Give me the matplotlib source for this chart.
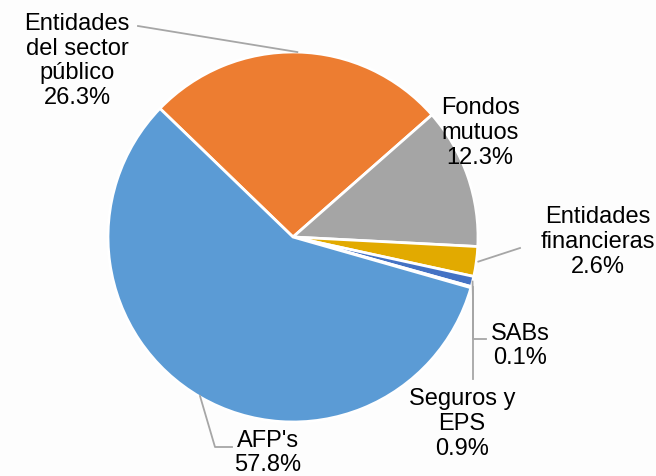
import numpy as np
import matplotlib.pyplot as plt

plt.rcParams['font.family'] = ['Liberation Sans', 'DejaVu Sans']

labels = ["Entidades\ndel sector\npúblico", "Fondos\nmutuos", "Entidades\nfinancieras",
          "Seguros y\nEPS", "SABs", "AFP's"]
shares = [26.3, 12.3, 2.6, 0.9, 0.1, 57.8]
colors = ["#ED7D31", "#A5A5A5", "#E2AA00", "#4472C4", "#70AD47", "#5B9BD5"]

W, H = 656, 477
fig = plt.figure(figsize=(W / 100, H / 100), dpi=100)
fig.patch.set_facecolor("#fdfdfd")
ax = fig.add_axes([0, 0, 1, 1])

cx, cy, r = 293, H - 238, 185
wedges, _ = ax.pie(shares, colors=colors, startangle=136, counterclock=False,
                   center=(cx, cy), radius=r, frame=True,
                   wedgeprops=dict(edgecolor="white", linewidth=2))
ax.set_xlim(0, W)
ax.set_ylim(0, H)
ax.axis("off")

# label text positions (pixel coords from top)
text_pos = [(77, 61), (480, 133), (598, 242), (462, 424), (520, 346), (268, 453)]
lc = "#A6A6A6"

def edge_pt(w, frac=0.5):
    a = np.deg2rad(w.theta1 + (w.theta2 - w.theta1) * frac)
    return cx + r * np.cos(a), cy + r * np.sin(a)

for lab, val, (tx, ty) in zip(labels, shares, text_pos):
    ax.text(tx, H - ty, f"{lab}\n{val:.1f}%", ha="center", va="center",
            fontsize=17, linespacing=1.16, color="black")

# leader lines
x0, y0 = edge_pt(wedges[0], 0.5)
ax.plot([138, x0], [H - 27, y0], color=lc, lw=1.3)
x0, y0 = edge_pt(wedges[2])
ax.plot([520, x0 + 2], [H - 249, y0], color=lc, lw=1.3)
x0, y0 = edge_pt(wedges[3])
ax.plot([x0, 473, 473], [y0, H - 300, H - 380], color=lc, lw=1.3)
x0, y0 = edge_pt(wedges[4])
ax.plot([486, 473, 473], [H - 340, H - 340, y0], color=lc, lw=1.3)
ax.plot([232, 215, 200], [H - 448, H - 448, H - 397], color=lc, lw=1.3)

fig.savefig("out.png", dpi=100, facecolor=fig.get_facecolor())
